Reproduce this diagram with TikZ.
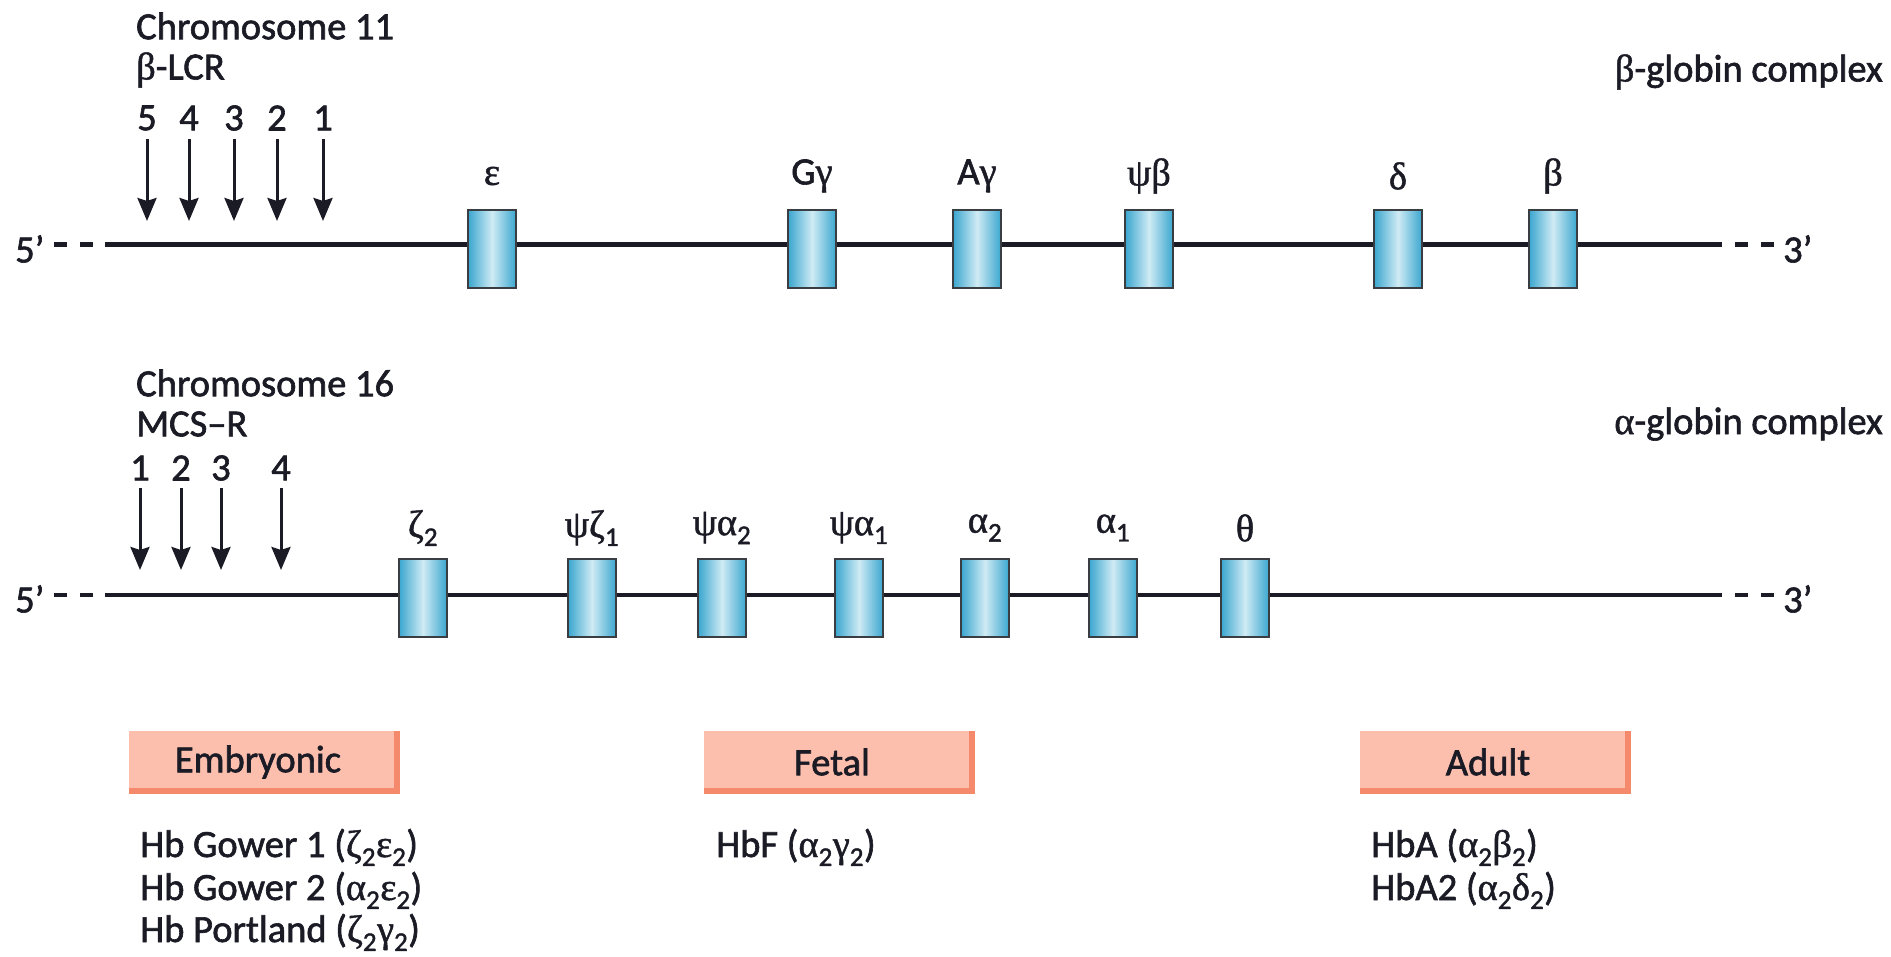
\documentclass[tikz,border=0pt]{standalone}
\usepackage{fontspec}
\setmainfont{Carlito}[FakeBold=1.6]
\newfontfamily\grfont{Liberation Serif}[FakeBold=1.2]
\usetikzlibrary{arrows.meta}
\newcommand\gk[1]{{\grfont #1}}
\newcommand\sbs[1]{\textsubscript{#1}}
\definecolor{ink}{HTML}{1B1B26}
\definecolor{geneedge}{HTML}{3A3D42}
\definecolor{genedark}{HTML}{3AA6CF}
\definecolor{genelight}{HTML}{CFEBF4}
\definecolor{stagefill}{HTML}{FDBFAD}
\definecolor{stageshade}{HTML}{F5896B}
\tikzset{
  txt/.style={text=ink, inner sep=0pt},
  hb/.style={txt, anchor=base west, text height=26pt, text depth=8pt},
  gene/.style={draw=geneedge, line width=2pt, minimum width=48pt, minimum height=78pt,
    inner sep=0pt, left color=genedark, right color=genedark, middle color=genelight},
  chromA/.style={draw=ink, line width=5pt},
  chromB/.style={draw=ink, line width=3.5pt},
  ends/.style={draw=ink, dash pattern=on 13pt off 13pt},
  site/.style={draw=ink, line width=3pt, -{Stealth[length=23pt,width=19pt,inset=3pt]}},
  stage/.style={fill=stageshade, minimum width=271pt, minimum height=63pt, inner sep=0pt,
    path picture={\fill[stagefill] (path picture bounding box.north west)
      rectangle ([shift={(-6pt,6pt)}]path picture bounding box.south east);}}
}
\begin{document}
\begin{tikzpicture}[x=1pt,y=-1pt,font=\fontsize{38.5}{43}\selectfont]
\useasboundingbox (0,0) rectangle (1891,957);

% ---------- beta-globin cluster, chromosome 11 ----------
\node[txt,anchor=west] (chr11) at (136,26) {Chromosome 11};
\node[txt,anchor=west] (lcr) at (136,70) {\gk{β}-LCR};
\node[txt,anchor=east] (bcx) at (1883,72) {\gk{β}-globin complex};

\node[txt,anchor=west] (p5a) at (15,249) {5’};
\node[txt,anchor=west] (p3a) at (1783,249) {3’};
\coordinate (a0) at (54,245);
\coordinate (a1) at (93,245);
\coordinate (aw) at (105,245);
\coordinate (ae) at (1722,245);
\coordinate (b0) at (1735,245);
\coordinate (b1) at (1775,245);
\draw[ends,line width=5pt] (a0) -- (a1);
\draw[ends,line width=5pt] (b0) -- (b1);
\draw[chromA] (aw) -- (ae);

\foreach \n/\x in {5/147,4/189,3/234,2/277,1/323}{
  \node[txt] (hs\n) at (\x,118) {\n};
  \coordinate (hs\n t) at (\x,139);
  \coordinate (hs\n b) at (\x,221);
  \draw[site] (hs\n t) -- (hs\n b);
}

\foreach \nm/\x/\lab in {eps/492/\gk{ε}, gg/812/G\gk{γ}, ag/977/A\gk{γ},
    pb/1149/\gk{ψβ}, del/1398/\gk{δ}, bet/1553/\gk{β}}{
  \node[gene] (\nm) at (\x,249) {};
  \node[txt] (\nm l) at (\x,176) {\lab};
}

% ---------- alpha-globin cluster, chromosome 16 ----------
\node[txt,anchor=west] (chr16) at (136,383) {Chromosome 16};
\node[txt,anchor=west] (mcs) at (136,424) {MCS–R};
\node[txt,anchor=east] (acx) at (1883,424) {\gk{α}-globin complex};

\node[txt,anchor=west] (p5b) at (15,599) {5’};
\node[txt,anchor=west] (p3b) at (1783,599) {3’};
\coordinate (c0) at (54,595);
\coordinate (c1) at (93,595);
\coordinate (cw) at (105,595);
\coordinate (ce) at (1722,595);
\coordinate (d0) at (1735,595);
\coordinate (d1) at (1775,595);
\draw[ends,line width=3.5pt] (c0) -- (c1);
\draw[ends,line width=3.5pt] (d0) -- (d1);
\draw[chromB] (cw) -- (ce);

\foreach \n/\x in {1/140,2/181,3/221,4/281}{
  \node[txt] (hm\n) at (\x,468) {\n};
  \coordinate (hm\n t) at (\x,488);
  \coordinate (hm\n b) at (\x,570);
  \draw[site] (hm\n t) -- (hm\n b);
}

\foreach \nm/\x/\lab in {zt/423/\gk{ζ}\sbs{2}, pzo/592/\gk{ψζ}\sbs{1},
    pat/722/\gk{ψα}\sbs{2}, pao/859/\gk{ψα}\sbs{1}, atw/985/\gk{α}\sbs{2},
    aon/1113/\gk{α}\sbs{1}, th/1245/\gk{θ}}{
  \node[gene] (\nm) at (\x,598) {};
  \node[txt] (\nm l) at (\x,528) {\lab};
}

% ---------- developmental stages ----------
\node[stage] (emb) at (264.5,762.5) {};
\node[txt] (embt) at (258,762) {Embryonic};
\node[stage] (fet) at (839,762.5) {};
\node[txt] (fett) at (832,762) {Fetal};
\node[stage] (adu) at (1495,762.5) {};
\node[txt] (adut) at (1488,762) {Adult};

\node[hb] (hg1) at (140,857) {Hb Gower 1 (\gk{ζ}\sbs{2}\gk{ε}\sbs{2})};
\node[hb] (hg2) at (140,900) {Hb Gower 2 (\gk{α}\sbs{2}\gk{ε}\sbs{2})};
\node[hb] (hp) at (140,942) {Hb Portland (\gk{ζ}\sbs{2}\gk{γ}\sbs{2})};
\node[hb] (hbf) at (716,857) {HbF (\gk{α}\sbs{2}\gk{γ}\sbs{2})};
\node[hb] (hba) at (1371,857) {HbA (\gk{α}\sbs{2}\gk{β}\sbs{2})};
\node[hb] (hba2) at (1371,900) {HbA2 (\gk{α}\sbs{2}\gk{δ}\sbs{2})};
\end{tikzpicture}
\end{document}
